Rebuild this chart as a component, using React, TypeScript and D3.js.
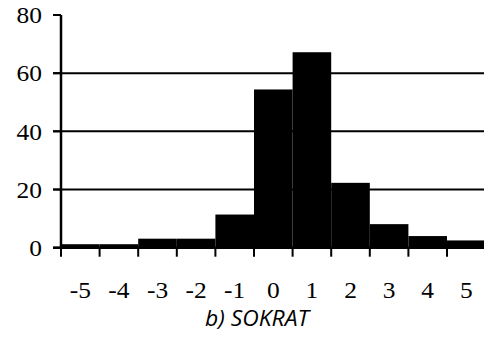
import React from "react";
import * as d3 from "d3";

const categories = [-5, -4, -3, -2, -1, 0, 1, 2, 3, 4, 5];
const values = [1.2, 1.2, 3.1, 3.1, 11.4, 54.4, 67.2, 22.3, 8.1, 4.0, 2.5];
const yTicks = [0, 20, 40, 60, 80];
const gridValues = [20, 40, 60];
const title = "b) SOKRAT";

const W = 484;
const H = 338;

export default function App() {
  const x = d3.scaleLinear().domain([-5.5, 5.5]).range([61, 485.6]);
  const y = d3.scaleLinear().domain([0, 80]).range([247.7, 15]);
  const edgeTicks = d3.range(-5.5, 5.0, 1);
  const serif = "'Liberation Serif', 'Times New Roman', serif";
  const sx = 1.06;
  return (
    <svg
      width={W}
      height={H}
      style={{ position: "absolute", left: 0, top: 0, background: "#fff" }}
    >
      <rect x={0} y={0} width={W} height={H} fill="#fff" />
      {gridValues.map((v) => (
        <line key={"g" + v} x1={53} x2={W} y1={y(v)} y2={y(v)} stroke="#000" strokeWidth={2} />
      ))}
      {categories.map((c, i) => (
        <rect
          key={"b" + c}
          x={x(c - 0.5)}
          y={y(values[i])}
          width={x(c + 0.5) - x(c - 0.5)}
          height={y(0) - y(values[i])}
          fill="#000"
        />
      ))}
      {/* y axis */}
      <line x1={61} x2={61} y1={y(80)} y2={y(0)} stroke="#000" strokeWidth={2.5} />
      {yTicks.map((v) => (
        <g key={"yt" + v}>
          <line x1={53} x2={61} y1={y(v)} y2={y(v)} stroke="#000" strokeWidth={2} />
          <text
            transform={`translate(42,${y(v)}) scale(${sx},1)`}
            dy="0.34em"
            textAnchor="end"
            fontFamily={serif}
            fontSize={24}
            fill="#000"
          >
            {v}
          </text>
        </g>
      ))}
      {/* x axis */}
      <line x1={53} x2={W} y1={y(0)} y2={y(0)} stroke="#000" strokeWidth={2.5} />
      {edgeTicks.map((t) => (
        <line key={"xt" + t} x1={x(t)} x2={x(t)} y1={y(0)} y2={y(0) + 9} stroke="#000" strokeWidth={2} />
      ))}
      {categories.map((c) => (
        <text
          key={"xl" + c}
          transform={`translate(${x(c)},297.5) scale(${sx},1)`}
          textAnchor="middle"
          fontFamily={serif}
          fontSize={24}
          fill="#000"
        >
          {c}
        </text>
      ))}
      <text
        transform={`translate(257,326) scale(1.04,1)`}
        textAnchor="middle"
        fontFamily="'Open Sans', 'Noto Sans', sans-serif"
        fontStyle="italic"
        fontWeight={500}
        fontSize={22}
        fill="#000"
      >
        {title}
      </text>
    </svg>
  );
}
